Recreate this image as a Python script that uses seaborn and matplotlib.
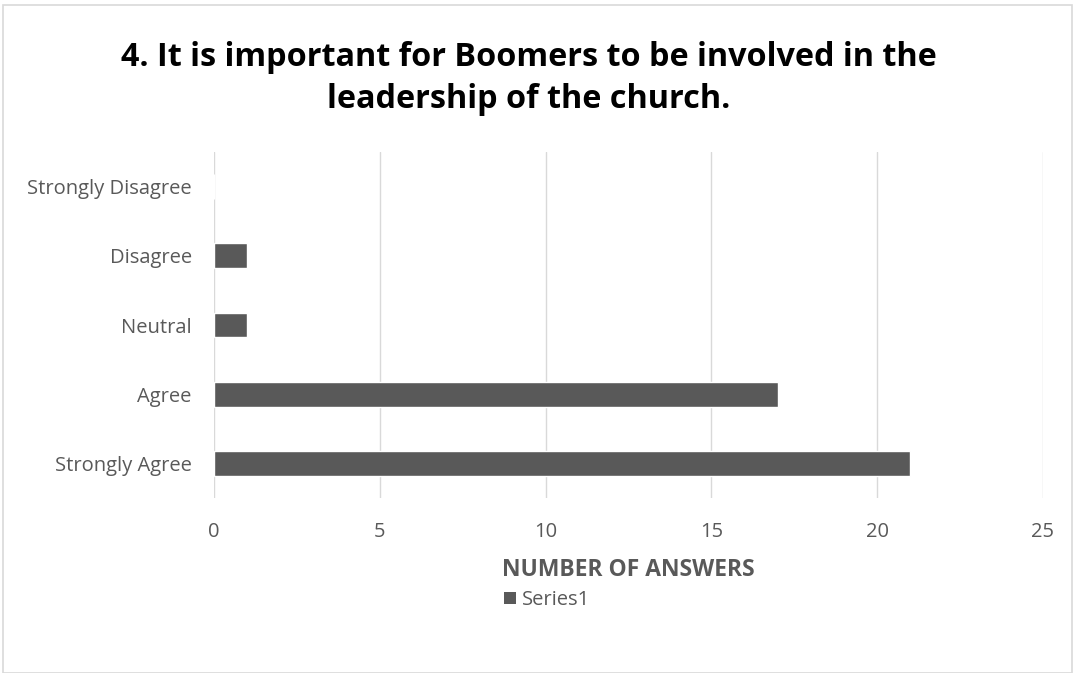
import matplotlib
matplotlib.use("Agg")
import matplotlib.pyplot as plt
import seaborn as sns
import pandas as pd
from matplotlib.patches import Rectangle, Patch

categories = ["Strongly Disagree", "Disagree", "Neutral", "Agree", "Strongly Agree"]
values = [0, 1, 1, 17, 21]
x_ticks = [0, 5, 10, 15, 20, 25]
title = "4. It is important for Boomers to be involved in the\nleadership of the church."
xlabel = "NUMBER OF ANSWERS"
series_name = "Series1"

sns.set_theme(style="white")
plt.rcParams['font.family'] = ['Open Sans', 'DejaVu Sans']

df = pd.DataFrame({"category": categories, "value": values})

fig = plt.figure(figsize=(10.73, 6.73), dpi=100)
ax = fig.add_axes([214/1073, 1-498/673, (1043-214)/1073, (498-152)/673])

bar_color = "#595959"
grey_text = "#595959"
sns.barplot(data=df, y="category", x="value", order=categories, color=bar_color,
            width=0.36, ax=ax, saturation=1, orient="h")

ax.set_xlim(0, 25)
ax.set_xticks(x_ticks)
ax.set_xticklabels([str(t) for t in x_ticks], fontsize=14.5, color=grey_text)
ax.tick_params(axis='y', labelsize=14.5, labelcolor=grey_text, length=0, pad=16)
ax.tick_params(axis='x', length=0, pad=17)
ax.set_ylabel("")
ax.set_xlabel(xlabel, fontsize=16.5, fontweight='bold', color=grey_text, labelpad=12)
ax.grid(axis='x', color="#d9d9d9", linewidth=1)
ax.set_axisbelow(True)
for s in ax.spines.values():
    s.set_visible(False)

fig.text(529/1073, 1-79/673, title, ha='center', va='center', fontsize=23.3,
         fontweight='bold', color='#000000', linespacing=1.36)

handles = [Patch(facecolor=bar_color, edgecolor='none', label=series_name)]
fig.legend(handles=handles, loc='center', bbox_to_anchor=(547/1073, 1-600/673),
           frameon=False, fontsize=14.5, handlelength=0.6, handleheight=0.6,
           handletextpad=0.3, labelcolor=grey_text)

fig.patches.append(Rectangle((3/1073, 0), 1 - 4/1073, 1-5/673, transform=fig.transFigure,
                             fill=False, edgecolor="#d9d9d9", linewidth=1.2))

fig.savefig("out.png", dpi=100, facecolor='white')
